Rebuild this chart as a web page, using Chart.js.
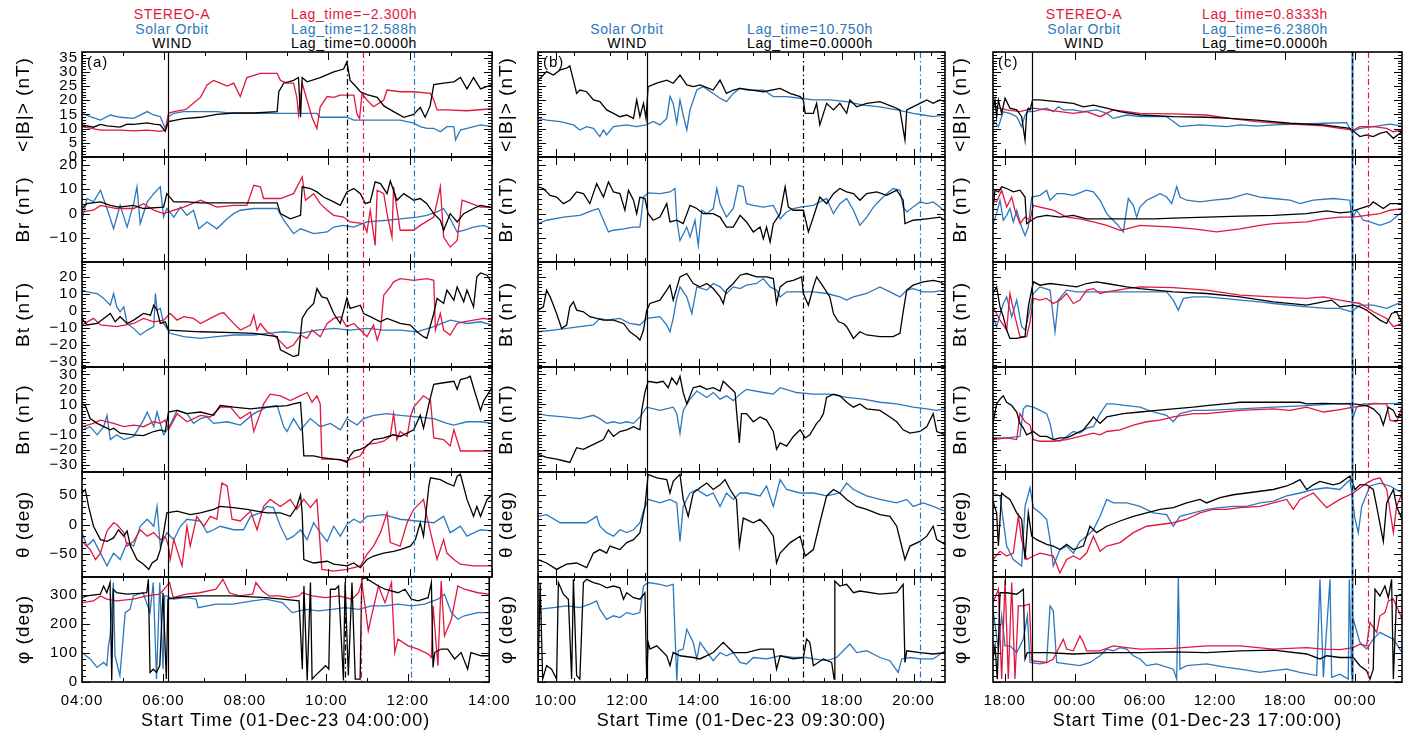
<!DOCTYPE html>
<html>
<head>
<meta charset="utf-8">
<script src="https://cdn.jsdelivr.net/npm/chart.js@4/dist/chart.umd.min.js"></script>
<style>
  body { margin: 0; background: #fff; width: 1413px; height: 736px; overflow: hidden; position: relative; font-family: 'Liberation Sans', Arial, sans-serif; }
  canvas { position: absolute; }
  .hd { position: absolute; transform: translate(-50%, -50%); font-size: 14px; letter-spacing: 0.6px; white-space: nowrap; }
</style>
</head>
<body>
<div class="hd" style="left:172px;top:14px;color:#e2173d">STEREO-A</div>
<div class="hd" style="left:172px;top:29px;color:#2b78be">Solar Orbit</div>
<div class="hd" style="left:172px;top:43px;color:#000">WIND</div>
<div class="hd" style="left:354px;top:14px;color:#e2173d">Lag_time=−2.300h</div>
<div class="hd" style="left:354px;top:29px;color:#2b78be">Lag_time=12.588h</div>
<div class="hd" style="left:354px;top:43px;color:#000">Lag_time=0.0000h</div>

<div class="hd" style="left:627px;top:29px;color:#2b78be">Solar Orbit</div>
<div class="hd" style="left:627px;top:43px;color:#000">WIND</div>
<div class="hd" style="left:810px;top:29px;color:#2b78be">Lag_time=10.750h</div>
<div class="hd" style="left:810px;top:43px;color:#000">Lag_time=0.0000h</div>

<div class="hd" style="left:1084px;top:14px;color:#e2173d">STEREO-A</div>
<div class="hd" style="left:1084px;top:29px;color:#2b78be">Solar Orbit</div>
<div class="hd" style="left:1084px;top:43px;color:#000">WIND</div>
<div class="hd" style="left:1265px;top:14px;color:#e2173d">Lag_time=0.8333h</div>
<div class="hd" style="left:1265px;top:29px;color:#2b78be">Lag_time=6.2380h</div>
<div class="hd" style="left:1265px;top:43px;color:#000">Lag_time=0.0000h</div>
<script>
// colours
const RED = '#e2173d', BLUE = '#2b78be', BLACK = '#000';
const FONT = "'Liberation Sans', Arial, sans-serif";

// panel quantities (same in every column)
const yTitles = ['<|B|> (nT)', 'Br (nT)', 'Bt (nT)', 'Bn (nT)', 'θ (deg)', 'φ (deg)'];
const yMin = [0, -19.8, -33, -35, -90, 0];
const yMax = [37, 23.2, 29, 35, 90, 360];
const yTicks = [[0, 5, 10, 15, 20, 25, 30, 35], [-10, 0, 10, 20], [-30, -20, -10, 0, 10, 20],
                [-30, -20, -10, 0, 10, 20, 30], [-50, 0, 50], [0, 100, 200, 300]];
const yMinor = [1, 2, 2, 2, 10, 20];

// ---------- column (a): hours after 01-Dec-23 04:00 ----------
const aTicks = [0, 2, 4, 6, 8, 10];
const aLabels = ['04:00', '06:00', '08:00', '10:00', '12:00', '14:00'];
const aEvents = [2.10, 6.46, 6.85, 8.09];

const aB_wind = [[0,11.3],[0.28,10.5],[0.45,11.5],[0.61,11],[0.93,10.5],[1.10,11.6],[1.26,11.5],[1.59,12],[1.75,11.6],[1.91,11.3],[2.03,9],[2.11,12.5],[2.48,13.5],[2.89,14],[3.29,15],[3.70,15.5],[4.19,15.5],[4.76,16],[4.80,23],[4.92,26],[5.16,27],[5.28,28],[5.33,14],[5.37,28],[5.49,26.5],[5.81,28],[6.14,30],[6.38,31],[6.46,33.5],[6.54,27],[6.67,25],[6.79,23],[6.95,22],[7.20,21],[7.36,18],[7.60,16],[7.85,14],[8.09,15],[8.25,17.5],[8.37,14],[8.49,18],[8.58,25.5],[8.82,26],[9.07,26.5],[9.23,28],[9.39,24],[9.55,28],[9.72,24],[10,25.5]];
const aB_sta = [[0,10.7],[0.45,9.5],[0.93,9.5],[1.26,9.2],[1.59,9.5],[1.91,9],[2.03,9.5],[2.11,15.4],[2.24,16],[2.48,16.6],[2.56,17],[2.72,19],[2.89,21],[3.05,25.4],[3.21,27],[3.37,26],[3.54,25],[3.70,26],[3.86,21.3],[4.02,28],[4.35,29.5],[4.76,29.5],[4.84,27],[5.00,26],[5.16,26],[5.24,21],[5.28,15],[5.37,26],[5.49,20],[5.61,14],[5.73,10],[5.81,17.7],[5.98,21.3],[6.14,21],[6.30,21.8],[6.63,21.8],[6.71,15],[6.77,13.6],[6.83,22.4],[6.95,20.1],[7.11,17.7],[7.36,20.1],[7.44,23.6],[7.76,23],[8.09,23],[8.50,22.4],[8.58,20.1],[8.66,16.6],[8.90,16.6],[9.39,16.3],[10,17]];
const aB_solo = [[0,15.4],[0.20,14.2],[0.45,13],[0.69,14.8],[0.93,14],[1.26,13.6],[1.59,16],[1.75,14.8],[1.91,14.2],[2.03,10],[2.11,14.2],[2.24,15.4],[2.48,16],[3.29,16],[3.70,15.4],[4.76,15.4],[5.73,15.4],[5.81,14],[6.46,14],[6.63,13],[7.76,13],[8.09,11.9],[8.25,10.7],[8.41,10.1],[8.58,10.1],[8.74,8.9],[8.90,10.7],[9.07,10.7],[9.11,6],[9.23,9.5],[9.39,10.1],[9.72,11.3],[10,10.7]];

const aBr_wind = [[0,2.1],[0.12,4.1],[0.45,4.8],[0.69,3.4],[0.89,2.7],[1.26,3.4],[1.5,2.1],[1.99,2.7],[2.07,8.2],[2.24,4.8],[2.56,4.8],[2.89,4.4],[4.76,4.4],[4.84,0],[5.08,-2.1],[5.33,-0.7],[5.37,11],[5.57,10.3],[5.73,8.9],[5.89,6.8],[6.14,4.8],[6.30,3.4],[6.46,8.9],[6.63,10.3],[6.79,8.2],[6.91,4.1],[7.03,4.8],[7.15,13],[7.28,12.3],[7.44,8.2],[7.52,13.4],[7.68,5.5],[7.85,8.2],[8.09,5.5],[8.25,6.2],[8.41,4.1],[8.58,0],[8.74,-2.7],[8.82,-6.8],[8.98,0],[9.15,-3.4],[9.31,0],[9.55,2.1],[9.72,3.4],[10,2.5]];
const aBr_sta = [[0,0.7],[0.28,1.4],[0.45,3.4],[0.85,2.1],[1.26,2.1],[1.50,4.1],[1.75,1.4],[1.99,0],[2.11,0.7],[2.48,2.7],[2.89,5.5],[3.29,2.7],[3.70,3.4],[4.02,3.4],[4.19,11.6],[4.35,11],[4.43,6.2],[4.84,6.2],[5.16,8.2],[5.37,15.1],[5.45,5.5],[5.65,8.2],[5.81,4.1],[5.98,1.4],[6.14,-0.7],[6.38,-1.4],[6.54,-3.4],[6.87,-4.1],[6.95,-7.5],[7.03,1.4],[7.15,-13],[7.20,9.6],[7.36,8.2],[7.44,0],[7.56,-9.6],[7.60,11],[7.76,-6.8],[8.09,-6.8],[8.25,-4.8],[8.58,-1.4],[8.74,11],[8.82,-9.6],[8.98,-13.7],[9.15,-11],[9.27,5.5],[9.39,4.8],[9.72,2.7],[10,2.7]];
const aBr_solo = [[0,-2.7],[0.12,6.2],[0.28,4.8],[0.45,9.6],[0.61,2.1],[0.77,-6.2],[0.93,3.4],[1.10,-5.5],[1.26,4.1],[1.34,11],[1.42,-4.1],[1.59,4.8],[1.75,8.2],[1.91,11],[1.99,-1.4],[2.07,2.1],[2.24,-1.4],[2.40,2.7],[2.56,-0.7],[2.72,1.4],[2.85,-6.2],[3.05,-3.4],[3.29,-6.2],[3.54,-2.1],[3.70,0],[3.86,1.4],[4.19,2.1],[4.76,2.1],[4.92,-2.7],[5.16,-8.2],[5.33,-6.2],[5.65,-8.2],[5.98,-7.5],[6.14,-5.5],[6.38,-4.8],[6.63,-5.5],[6.95,-3.4],[7.44,-2.7],[7.76,-2.1],[8.17,-1.4],[8.41,-0.7],[8.66,0.7],[8.82,2.1],[8.98,-2.1],[9.15,-7.5],[9.31,-6.8],[9.55,-5.5],[9.80,-4.8],[10,-6.2]];

const aBt_wind = [[0,-4.3],[0.12,-8.2],[0.37,-7.3],[0.53,-4.3],[0.69,-1.4],[0.81,-6.3],[0.93,-3.3],[1.10,-7.3],[1.26,-5.3],[1.50,-1.4],[1.67,-2.4],[1.75,3.5],[1.83,0.6],[1.91,-7.3],[2.03,-6.3],[2.11,-11.2],[2.89,-12.2],[3.70,-12.7],[4.19,-13.1],[4.76,-15.1],[4.84,-22.9],[5.16,-26.9],[5.28,-25.9],[5.37,-4.3],[5.49,0.6],[5.65,4.5],[5.73,13.3],[5.85,8.4],[5.98,7.5],[6.14,-1.4],[6.30,-7.3],[6.46,7.5],[6.54,1.6],[6.79,3.5],[6.87,-1.4],[7.03,-3.3],[7.28,-6.3],[7.44,-4.3],[7.76,-7.3],[8.01,-8.2],[8.17,-12.2],[8.33,-15.1],[8.41,-16.1],[8.58,-1.4],[8.66,7.5],[8.82,4.5],[8.90,12.4],[9.07,6.5],[9.15,14.3],[9.31,5.5],[9.39,12.4],[9.55,2.5],[9.63,20.2],[9.72,22.5],[9.88,21.2],[10,16.3]];
const aBt_sta = [[0,-8.2],[0.28,-4.3],[0.45,-8.2],[0.85,-9.2],[1.26,-7.3],[1.50,-4.3],[1.75,-6.3],[1.99,-5.3],[2.15,-1.4],[2.32,-5.3],[2.48,-3.3],[2.72,-4.3],[2.89,-7.3],[3.13,-4.3],[3.37,-1.4],[3.46,-1.0],[3.62,-5.3],[3.86,-11.2],[4.11,-8.2],[4.19,-2.4],[4.27,-11.2],[4.35,-7.3],[4.51,-12.2],[4.67,-14.1],[4.84,-18],[5.00,-22],[5.16,-20],[5.33,-14.1],[5.49,-16.1],[5.61,-11.2],[5.81,-15.1],[5.98,-7.3],[6.14,-4.3],[6.30,-3.3],[6.46,-9.2],[6.63,-7.3],[6.79,-11.2],[6.95,-15.1],[7.11,-8.2],[7.20,-17.1],[7.28,-11.2],[7.36,9.4],[7.52,14.3],[7.60,17.3],[7.76,19.2],[8.09,18.2],[8.41,19.2],[8.58,18.2],[8.62,-11.2],[8.74,-1.4],[8.82,-11.2],[8.98,-14.1],[9.15,-7.3],[9.31,-6.3],[9.55,-5.3],[9.80,-4.3],[10,-5.3]];
const aBt_solo = [[0,12.4],[0.12,11.4],[0.37,10.4],[0.53,7.5],[0.69,3.5],[0.77,10.4],[0.85,2.5],[0.93,-0.4],[1.02,2.5],[1.10,-7.3],[1.26,-10.2],[1.42,-14.1],[1.59,-11.2],[1.75,-9.2],[1.79,10.4],[1.83,0.6],[1.91,1.6],[1.99,-7.3],[2.15,-13.1],[2.48,-15.1],[2.89,-16.1],[3.29,-15.1],[3.70,-14.1],[4.19,-14.1],[4.51,-13.1],[4.92,-12.2],[5.33,-13.1],[5.73,-11.2],[6.14,-10.2],[6.54,-11.2],[6.95,-10.2],[7.36,-11.2],[7.76,-11.2],[8.17,-12.2],[8.58,-9.2],[8.98,-5.3],[9.39,-7.3],[9.72,-6.3],[10,-8.2]];

const aBn_wind = [[0,10.4],[0.08,9.3],[0.20,0.6],[0.37,-2.6],[0.53,-4.8],[0.69,-6.9],[0.77,-5.8],[0.93,-9.1],[1.26,-10.2],[1.50,-10.8],[1.75,-8.0],[1.91,-6.9],[2.03,-8.0],[2.11,5.0],[2.32,6.1],[2.56,3.9],[2.89,5.0],[3.21,2.8],[3.37,9.3],[3.70,8.2],[4.11,7.1],[4.51,8.2],[5.00,9.3],[5.16,10.4],[5.33,11.5],[5.37,-4.8],[5.41,-24.2],[5.65,-24.2],[5.81,-25.3],[6.14,-26.4],[6.30,-26.8],[6.46,-28.6],[6.54,-24.2],[6.63,-21.0],[6.79,-19.9],[6.95,-17.7],[7.11,-13.4],[7.36,-12.3],[7.60,-10.2],[7.76,-11.3],[7.93,-9.1],[8.09,-6.9],[8.25,2.8],[8.33,-5.8],[8.46,10.4],[8.58,23.4],[8.82,24.5],[9.07,25.5],[9.15,20.1],[9.23,26.6],[9.39,27.7],[9.47,28.8],[9.55,21.2],[9.72,6.1],[9.80,12.6],[10,21.2]];
const aBn_sta = [[0,-4.8],[0.28,-2.6],[0.45,-0.4],[0.77,-2.6],[1.02,-4.8],[1.26,-3.7],[1.50,-4.8],[1.75,-1.5],[1.91,-2.6],[2.03,-0.4],[2.11,-6.9],[2.32,3.9],[2.56,-1.5],[2.89,2.8],[3.13,1.7],[3.37,8.2],[3.62,8.2],[3.86,0.6],[4.11,5.0],[4.19,-8.0],[4.43,10.4],[4.59,16.9],[4.84,15.8],[5.08,12.6],[5.24,14.7],[5.49,18.0],[5.61,11.5],[5.73,15.8],[5.81,10.4],[5.85,-26.4],[6.14,-26.4],[6.46,-27.5],[6.79,-24.2],[6.95,-16.7],[7.20,-15.6],[7.36,-14.5],[7.52,-11.3],[7.60,3.9],[7.68,-13.4],[7.76,-8.0],[7.93,-11.3],[8.01,1.7],[8.09,8.2],[8.33,15.8],[8.50,12.6],[8.58,-12.3],[8.82,-13.4],[8.98,-17.7],[9.07,-6.9],[9.23,-21.0],[9.55,-21.0],[10,-21.0]];
const aBn_solo = [[0,-6.9],[0.20,-4.8],[0.37,-10.2],[0.53,-4.8],[0.61,2.8],[0.69,-13.4],[0.85,-10.2],[1.02,-13.4],[1.26,-11.3],[1.50,-0.4],[1.59,5.0],[1.75,-4.8],[1.83,5.0],[1.99,-10.2],[2.15,-3.7],[2.32,6.1],[2.56,3.9],[2.72,-2.6],[2.89,0.6],[3.05,1.7],[3.21,-2.6],[3.54,-1.5],[3.86,-3.7],[4.19,3.9],[4.51,8.2],[4.76,9.3],[4.92,-4.8],[5.00,-8.0],[5.16,0.6],[5.33,-6.9],[5.57,0.6],[5.81,-4.8],[6.06,-2.6],[6.30,-6.9],[6.46,0.6],[6.71,-3.7],[6.87,0.6],[7.11,2.8],[7.44,3.9],[7.76,2.8],[8.17,1.7],[8.58,0.6],[8.90,-2.6],[9.07,-3.7],[9.39,-1.5],[9.72,-1.5],[10,-2.6]];

const aTh_wind = [[0,54],[0.08,60],[0.16,31],[0.28,-3],[0.45,-26],[0.61,-29],[0.77,-23],[0.89,-9],[1.02,-20],[1.10,-11],[1.18,-37],[1.34,-60],[1.50,-68],[1.63,-77],[1.71,-66],[1.83,-60],[1.91,-43],[1.99,-14],[2.07,20],[2.32,23],[2.64,17],[2.89,20],[3.21,26],[3.37,31],[3.70,29],[4.02,26],[4.51,20],[4.84,20],[5.08,14],[5.24,31],[5.33,51],[5.37,20],[5.41,-60],[5.65,-66],[5.98,-63],[6.14,-68],[6.46,-71],[6.63,-66],[6.79,-74],[6.95,-60],[7.11,-54],[7.36,-49],[7.60,-46],[7.76,-43],[8.01,-37],[8.13,-26],[8.25,3],[8.33,-20],[8.46,66],[8.50,80],[8.74,77],[8.90,71],[9.07,66],[9.15,83],[9.23,86],[9.39,43],[9.55,14],[9.63,31],[9.72,14],[9.88,43],[10,51]];
const aTh_sta = [[0,-29],[0.20,-43],[0.33,-60],[0.45,-49],[0.61,-11],[0.77,3],[0.85,0],[1.02,-14],[1.10,-37],[1.26,-29],[1.42,-9],[1.59,-20],[1.75,-14],[1.91,-26],[2.03,-20],[2.11,-37],[2.15,-60],[2.24,-26],[2.44,-71],[2.56,-3],[2.64,-37],[2.80,14],[2.97,-3],[3.13,14],[3.29,9],[3.41,71],[3.54,66],[3.66,9],[3.86,6],[4.11,23],[4.27,-9],[4.43,31],[4.59,43],[4.84,31],[5.08,43],[5.24,26],[5.41,43],[5.57,29],[5.73,43],[5.85,-77],[6.14,-80],[6.46,-77],[6.79,-71],[6.95,-51],[7.11,-37],[7.28,-14],[7.44,20],[7.52,-31],[7.76,-37],[7.93,3],[8.09,26],[8.25,37],[8.33,43],[8.41,14],[8.58,-37],[8.66,-60],[8.82,-26],[8.90,-49],[9.07,-60],[9.23,-68],[9.55,-71],[10,-71]];
const aTh_solo = [[0,-14],[0.12,-37],[0.28,-26],[0.45,-49],[0.61,-71],[0.77,-49],[0.93,-60],[1.10,-31],[1.26,-37],[1.42,-3],[1.59,9],[1.75,-3],[1.83,31],[1.91,-37],[1.99,-26],[2.07,-14],[2.24,-26],[2.40,-3],[2.56,9],[2.89,6],[3.05,-14],[3.21,-9],[3.37,-3],[3.70,-9],[3.94,-9],[4.11,14],[4.35,20],[4.51,31],[4.67,29],[4.84,-3],[5.00,-26],[5.16,-20],[5.33,-9],[5.49,-26],[5.65,3],[5.81,-14],[5.98,-29],[6.14,-3],[6.30,-20],[6.46,0],[6.63,9],[6.79,3],[6.95,14],[7.36,17],[7.76,9],[8.17,6],[8.58,3],[8.82,14],[8.98,-14],[9.23,-3],[9.39,-20],[9.72,-9],[10,-11]];

const aPh_wind = [[0,289],[0.12,295],[0.45,301],[0.53,329],[0.61,306],[0.69,341],[0.73,5],[0.77,318],[0.85,306],[1.10,301],[1.42,304],[1.59,306],[1.63,352],[1.67,33],[1.75,44],[1.83,33],[1.91,56],[1.99,306],[2.07,10],[2.11,284],[2.32,289],[2.89,295],[3.70,295],[4.51,289],[4.92,284],[5.33,278],[5.41,44],[5.45,329],[5.53,5],[5.61,341],[5.65,10],[5.73,22],[5.98,56],[6.06,44],[6.10,318],[6.22,318],[6.30,329],[6.42,5],[6.46,341],[6.54,22],[6.63,341],[6.71,10],[6.83,10],[6.87,352],[6.95,358],[7.28,329],[7.44,318],[7.76,306],[7.93,318],[8.09,284],[8.25,278],[8.50,289],[8.58,341],[8.62,50],[8.66,101],[8.82,113],[8.98,113],[9.15,79],[9.31,101],[9.47,44],[9.55,101],[9.80,90],[10,90]];
const aPh_sta = [[0,272],[0.28,278],[0.45,295],[0.61,284],[0.85,278],[1.26,284],[1.59,295],[1.91,301],[2.15,341],[2.24,289],[2.56,301],[2.89,306],[3.29,318],[3.46,352],[3.62,306],[3.86,295],[4.19,301],[4.27,341],[4.43,312],[4.59,295],[4.84,295],[5.08,289],[5.33,295],[5.41,306],[5.65,295],[5.98,289],[6.30,295],[6.63,284],[6.79,306],[6.87,341],[6.95,261],[7.03,175],[7.11,227],[7.28,329],[7.44,272],[7.60,341],[7.68,101],[7.76,147],[8.01,124],[8.25,113],[8.50,96],[8.58,84],[8.62,261],[8.74,56],[8.82,346],[8.90,158],[9.07,215],[9.23,329],[9.39,318],[9.72,306],[10,301]];
const aPh_solo = [[0,101],[0.20,79],[0.37,50],[0.53,67],[0.61,56],[0.65,124],[0.69,158],[0.77,341],[0.81,90],[0.93,22],[0.98,101],[1.06,238],[1.18,249],[1.26,295],[1.50,306],[1.67,238],[1.75,341],[1.83,10],[1.91,341],[1.99,44],[2.03,295],[2.07,295],[2.24,284],[2.56,289],[2.80,284],[2.85,255],[3.29,267],[3.70,267],[4.19,278],[4.51,284],[4.92,272],[5.16,238],[5.49,249],[5.81,244],[6.14,249],[6.46,255],[6.79,249],[7.11,261],[7.44,261],[7.76,267],[8.09,261],[8.41,267],[8.74,284],[8.90,301],[9.07,238],[9.23,215],[9.39,227],[9.72,238],[10,238]];

// ---------- column (b): hours after 01-Dec-23 09:30 ----------
const bTicks = [0.5, 2.5, 4.5, 6.5, 8.5, 10.5];
const bLabels = ['10:00', '12:00', '14:00', '16:00', '18:00', '20:00'];
const bEvents = [3.04, 7.40, 10.68];

const bB_wind = [[0,27.1],[0.15,28.9],[0.24,30.1],[0.43,28.9],[0.62,30.7],[0.80,31.3],[0.89,32.1],[0.99,27.1],[1.08,22.4],[1.17,23.6],[1.36,23.0],[1.55,20.1],[1.73,19.5],[1.92,16.6],[2.11,15.4],[2.29,14.2],[2.48,14.8],[2.67,13.6],[2.76,20.1],[2.85,14.2],[2.95,18.9],[3.02,13.6],[3.08,24.8],[3.32,26.0],[3.60,27.1],[3.78,26.0],[3.97,28.9],[4.16,25.4],[4.34,24.8],[4.53,25.4],[4.90,23.6],[5.09,27.1],[5.27,22.4],[5.46,23.6],[5.65,24.2],[6.30,23.0],[6.77,24.2],[7.05,22.4],[7.33,21.3],[7.42,20.1],[7.47,15.4],[7.70,15.4],[7.79,18.9],[7.88,11.3],[8.07,18.9],[8.26,16.6],[8.44,18.9],[8.63,15.4],[8.72,20.1],[8.91,17.7],[9.19,18.9],[9.56,19.5],[9.93,17.7],[10.12,16.6],[10.26,6.0],[10.31,16.6],[10.68,18.9],[10.87,20.1],[11.05,18.9],[11.24,20.1],[11.38,19.5]];
const bB_solo = [[0,13.6],[0.24,13.0],[0.62,12.5],[0.99,11.3],[1.17,9.5],[1.36,10.7],[1.55,10.1],[1.73,7.2],[1.83,9.5],[1.92,7.8],[2.11,10.7],[2.48,11.3],[2.76,10.7],[3.02,11.3],[3.22,12.5],[3.41,11.3],[3.60,13.6],[3.69,21.3],[3.78,18.9],[3.88,11.9],[3.97,20.1],[4.06,14.8],[4.16,9.5],[4.25,16.6],[4.44,23.6],[4.62,24.8],[4.90,22.4],[5.09,20.7],[5.27,19.5],[5.46,22.4],[5.65,24.2],[5.83,23.6],[6.30,23.6],[6.58,21.3],[6.95,21.3],[7.33,20.7],[7.70,20.1],[8.16,20.1],[8.63,19.5],[9.10,18.3],[9.56,17.7],[10.03,16.6],[10.49,15.4],[10.77,14.8],[11.05,14.2],[11.38,14.8]];

const bBr_wind = [[0,11.0],[0.15,10.3],[0.34,7.5],[0.52,6.8],[0.71,4.1],[0.89,5.5],[1.08,8.9],[1.27,8.2],[1.45,4.1],[1.64,12.3],[1.83,6.8],[1.97,13.0],[2.11,8.9],[2.29,8.2],[2.43,1.4],[2.53,9.6],[2.67,5.5],[2.76,0],[2.85,6.8],[2.99,6.2],[3.08,0],[3.22,-2.7],[3.41,-1.4],[3.60,4.1],[3.69,-3.4],[3.88,-2.7],[4.06,-4.1],[4.25,3.4],[4.44,2.1],[4.62,0],[4.90,0],[5.09,-1.4],[5.27,-5.5],[5.46,-5.5],[5.65,-0.7],[5.83,-3.4],[6.02,-7.5],[6.21,-5.5],[6.30,-10.3],[6.39,-5.5],[6.49,-11.6],[6.58,-4.1],[6.77,0],[6.91,11.0],[7.00,2.7],[7.14,1.4],[7.42,1.4],[7.56,-7.5],[7.70,-1.4],[7.88,6.8],[8.07,4.1],[8.26,8.2],[8.44,10.3],[8.63,8.9],[8.82,8.2],[9.00,5.5],[9.19,8.2],[9.47,8.9],[9.75,7.5],[10.03,9.6],[10.21,5.5],[10.26,-4.1],[10.49,-2.7],[10.87,-2.1],[11.24,-1.4],[11.38,-2.7]];
const bBr_solo = [[0,-4.1],[0.24,-2.7],[0.71,-1.4],[1.17,-0.7],[1.55,1.4],[1.69,2.1],[1.83,-2.7],[1.97,-7.5],[2.11,-6.8],[2.39,-6.2],[2.67,-5.5],[2.85,-5.5],[2.95,6.8],[3.08,8.5],[3.41,8.2],[3.69,8.9],[3.83,10.3],[3.88,-2.7],[3.97,-11.0],[4.16,-5.5],[4.25,-9.6],[4.39,-2.7],[4.48,-13.0],[4.58,1.4],[4.72,0],[4.90,2.1],[5.00,10.3],[5.09,4.1],[5.27,-1.4],[5.46,2.1],[5.60,11.6],[5.74,11.0],[5.83,4.1],[6.02,3.4],[6.30,2.7],[6.58,3.4],[6.77,-2.1],[6.95,0.7],[7.14,2.1],[7.33,2.7],[7.70,3.4],[8.07,6.2],[8.26,0],[8.44,4.1],[8.63,6.2],[8.82,1.4],[9.00,-4.8],[9.19,-1.4],[9.38,2.7],[9.56,5.5],[9.75,8.2],[9.93,10.3],[10.12,9.6],[10.21,2.7],[10.31,0.7],[10.49,2.7],[10.68,4.8],[10.87,4.1],[11.05,4.8],[11.24,2.7],[11.38,0.7]];

const bBt_wind = [[0,0.6],[0.15,2.5],[0.24,12.4],[0.34,8.4],[0.52,-1.4],[0.66,-10.2],[0.80,-8.2],[0.89,2.5],[0.99,5.5],[1.08,0.6],[1.27,-0.4],[1.45,-3.3],[1.64,-4.3],[1.83,-5.3],[2.11,-5.3],[2.39,-7.3],[2.57,-12.2],[2.76,-15.1],[2.85,-17.1],[2.95,-11.2],[3.04,0.6],[3.13,4.5],[3.41,6.5],[3.60,12.4],[3.69,15.3],[3.78,6.5],[3.97,20.2],[4.16,22.2],[4.34,16.3],[4.53,14.3],[4.72,16.3],[4.90,13.3],[5.09,8.4],[5.18,4.5],[5.27,12.4],[5.46,16.3],[5.65,21.2],[5.83,22.2],[6.11,20.2],[6.39,20.2],[6.58,19.2],[6.67,4.5],[6.77,14.3],[6.95,17.3],[7.14,18.2],[7.37,20.2],[7.42,10.4],[7.56,3.5],[7.70,14.3],[7.79,20.2],[7.98,14.3],[8.16,8.4],[8.26,-1.4],[8.40,-6.3],[8.54,-7.3],[8.63,-9.2],[8.82,-16.1],[9.00,-12.2],[9.19,-14.1],[9.56,-15.1],[9.93,-15.1],[10.12,-13.1],[10.21,-0.4],[10.31,12.4],[10.49,15.3],[10.77,17.3],[11.05,18.2],[11.24,17.3],[11.38,15.3]];
const bBt_solo = [[0,-12.2],[0.43,-11.2],[0.80,-10.2],[1.17,-9.2],[1.55,-8.2],[1.73,-4.3],[1.92,-5.3],[2.29,-4.3],[2.57,-7.3],[2.85,-8.2],[3.04,-4.3],[3.41,-3.3],[3.60,-8.2],[3.69,-12.2],[3.78,-4.3],[3.88,7.5],[3.97,14.3],[4.16,8.4],[4.30,-1.4],[4.44,14.3],[4.72,12.4],[4.90,16.3],[5.09,14.3],[5.27,10.4],[5.46,14.3],[5.65,13.3],[5.83,15.3],[6.11,16.3],[6.30,19.2],[6.49,14.3],[6.67,12.4],[6.77,8.4],[6.95,11.4],[7.33,11.4],[7.70,11.4],[8.07,10.4],[8.44,8.4],[8.63,6.5],[8.82,8.4],[9.19,10.4],[9.56,14.3],[9.84,11.4],[10.12,8.4],[10.31,12.4],[10.49,13.3],[10.77,11.4],[11.05,11.4],[11.38,12.4]];

const bBn_wind = [[0,-23.2],[0.24,-25.3],[0.52,-26.4],[0.71,-27.5],[0.89,-28.6],[1.08,-18.8],[1.27,-19.9],[1.45,-17.7],[1.64,-15.6],[1.83,-13.4],[1.97,-6.9],[2.11,-11.3],[2.29,-8.0],[2.48,-6.9],[2.67,-4.8],[2.85,-6.9],[2.90,6.1],[2.99,18.0],[3.08,25.5],[3.32,24.5],[3.50,25.5],[3.64,21.2],[3.74,27.7],[3.88,23.4],[3.97,28.8],[4.06,18.0],[4.16,10.4],[4.34,21.2],[4.53,22.3],[4.72,20.1],[4.90,21.2],[5.09,19.0],[5.18,25.5],[5.37,21.2],[5.51,18.0],[5.55,6.1],[5.63,-15.6],[5.69,3.9],[5.83,3.9],[6.02,-1.5],[6.21,1.7],[6.39,-0.4],[6.58,-8.0],[6.67,-19.9],[6.77,-15.6],[6.95,-17.7],[7.14,-11.3],[7.33,-6.9],[7.47,-12.3],[7.60,-10.2],[7.79,-2.6],[7.88,-0.4],[7.98,3.9],[8.07,14.7],[8.26,16.9],[8.44,15.8],[8.63,11.5],[8.82,8.2],[9.00,10.4],[9.19,7.1],[9.56,6.1],[9.84,1.7],[10.03,-1.5],[10.21,-6.9],[10.40,-9.1],[10.68,-8.0],[10.87,-4.8],[11.05,3.9],[11.15,-8.0],[11.38,-10.2]];
const bBn_solo = [[0,3.9],[0.24,2.8],[0.71,1.7],[1.17,0.6],[1.55,2.8],[1.73,0.6],[1.92,-2.6],[2.11,-1.5],[2.29,-2.6],[2.48,-1.5],[2.67,-2.6],[2.85,1.7],[3.04,8.2],[3.41,6.1],[3.78,8.2],[3.88,3.9],[3.97,-9.1],[4.06,6.1],[4.25,13.6],[4.44,19.0],[4.72,14.7],[4.90,18.0],[5.09,13.6],[5.27,15.8],[5.46,12.6],[5.65,16.9],[5.83,20.1],[6.30,18.0],[6.58,16.9],[6.77,21.2],[7.23,18.0],[7.70,16.9],[8.16,16.9],[8.63,14.7],[9.10,13.6],[9.56,11.5],[10.03,10.4],[10.49,8.2],[10.87,7.1],[11.15,6.1],[11.38,7.1]];

const bTh_wind = [[0,-60],[0.24,-66],[0.52,-77],[0.80,-68],[1.08,-66],[1.36,-74],[1.55,-49],[1.73,-43],[1.92,-49],[2.01,-37],[2.29,-43],[2.48,-31],[2.67,-26],[2.85,-14],[2.99,31],[3.08,86],[3.32,80],[3.60,77],[3.69,54],[3.78,74],[3.97,86],[4.06,43],[4.20,14],[4.34,54],[4.53,63],[4.72,71],[4.90,60],[5.09,68],[5.23,77],[5.37,60],[5.55,43],[5.63,-37],[5.74,11],[6.02,3],[6.21,9],[6.39,-3],[6.58,-20],[6.67,-66],[6.77,-49],[7.05,-31],[7.33,-20],[7.47,-54],[7.70,-43],[7.88,3],[8.07,49],[8.26,60],[8.44,54],[8.63,43],[8.91,31],[9.19,26],[9.56,17],[9.84,14],[10.03,-3],[10.26,-60],[10.40,-37],[10.68,-29],[10.87,-20],[11.05,-3],[11.15,-26],[11.38,-34]];
const bTh_solo = [[0,14],[0.24,17],[0.62,3],[0.99,3],[1.36,3],[1.64,14],[1.73,-3],[1.92,-14],[2.11,-20],[2.29,-9],[2.48,-14],[2.67,-9],[2.85,3],[2.95,23],[3.08,43],[3.41,37],[3.69,43],[3.88,37],[3.97,-29],[4.06,31],[4.25,54],[4.44,60],[4.72,49],[4.90,54],[5.09,31],[5.27,54],[5.46,43],[5.65,54],[5.83,54],[6.21,49],[6.39,66],[6.58,31],[6.77,77],[6.95,60],[7.33,54],[7.70,54],[8.07,49],[8.44,54],[8.63,71],[8.82,60],[9.19,49],[9.56,43],[10.03,37],[10.31,43],[10.49,31],[10.77,37],[11.05,31],[11.38,23]];

const bPh_wind = [[0,10],[0.06,341],[0.13,10],[0.24,56],[0.38,44],[0.52,10],[0.57,341],[0.71,301],[0.85,284],[0.94,10],[0.99,352],[1.08,22],[1.17,10],[1.27,341],[1.36,352],[1.55,341],[1.73,335],[1.92,323],[2.11,329],[2.29,323],[2.39,284],[2.48,306],[2.67,289],[2.85,284],[2.99,306],[3.04,10],[3.08,136],[3.13,113],[3.32,124],[3.60,90],[3.69,56],[3.78,101],[3.97,90],[4.34,84],[4.53,79],[4.90,101],[5.18,136],[5.46,101],[5.83,101],[6.21,113],[6.58,113],[6.67,44],[6.77,90],[7.14,79],[7.42,84],[7.51,147],[7.60,136],[7.70,56],[7.98,79],[8.21,67],[8.28,10],[8.30,346],[8.44,329],[8.63,335],[8.82,306],[9.00,312],[9.56,301],[10.03,306],[10.21,335],[10.26,67],[10.31,107],[10.68,101],[11.05,96],[11.38,101]];
const bPh_solo = [[0,249],[0.43,255],[0.80,261],[1.17,255],[1.45,267],[1.64,278],[1.73,249],[1.92,215],[2.11,227],[2.29,221],[2.48,238],[2.67,232],[2.85,238],[2.95,329],[3.08,341],[3.41,335],[3.60,329],[3.78,335],[3.88,5],[3.92,107],[4.06,113],[4.16,181],[4.34,136],[4.44,79],[4.53,136],[4.90,73],[5.09,101],[5.27,90],[5.46,101],[5.65,67],[5.83,62],[6.02,84],[6.39,79],[6.77,90],[7.14,84],[7.51,84],[7.70,79],[8.07,73],[8.35,84],[8.72,130],[8.91,101],[9.19,107],[9.56,84],[9.84,73],[10.07,33],[10.17,79],[10.40,84],[10.68,79],[11.05,79],[11.38,107]];

// ---------- column (c): hours after 01-Dec-23 17:00 ----------
const cTicks = [1, 7, 13, 19, 25, 31];
const cLabels = ['18:00', '00:00', '06:00', '12:00', '18:00', '00:00'];
const cEvents = [3.37, 30.69, 32.12];

const cB_wind = [[0,16.6],[0.17,20.1],[0.31,14.2],[0.46,20.1],[0.74,15.4],[1.03,20.7],[1.45,17.2],[2.03,16.6],[2.45,14.2],[2.74,6.0],[2.88,15.4],[3.02,17.2],[3.17,16.6],[3.39,20.1],[4.02,20.1],[5.45,19.5],[6.87,18.9],[7.73,17.7],[8.59,18.3],[9.73,17.2],[10.87,16.0],[12.58,14.8],[15.43,14.2],[18.28,14.0],[20.28,13.6],[22.56,13.0],[25.41,11.9],[28.27,11.3],[30.55,10.1],[31.40,7.2],[31.97,7.8],[32.54,7.2],[33.11,8.3],[33.69,8.9],[34.26,6.6],[35,8.9]];
const cB_sta = [[0,17.7],[1.17,16.6],[2.31,16.0],[3.45,17.2],[4.59,16.6],[5.73,16.0],[6.87,15.4],[8.01,16.0],[9.16,14.2],[10.30,16.6],[11.44,16.0],[12.58,15.4],[15.43,15.2],[18.28,14.8],[20.28,13.6],[22.56,12.5],[25.41,11.6],[26.84,11.3],[28.27,11.0],[29.69,10.1],[30.83,9.5],[31.40,10.7],[32.54,10.7],[33.69,10.1],[34.26,8.9],[35,9.5]];
const cB_solo = [[0,13.0],[0.46,10.7],[0.88,15.9],[1.45,15.4],[2.03,14.2],[2.45,10.7],[2.74,14.8],[3.02,16.0],[3.45,16.0],[4.59,17.2],[5.16,16.0],[5.59,17.7],[6.02,16.6],[6.87,16.6],[7.73,16.0],[8.87,16.6],[9.73,15.4],[10.30,13.6],[11.44,14.8],[12.58,14.2],[14.86,14.2],[15.43,12.5],[16.00,10.7],[17.71,11.3],[19.99,10.7],[21.14,11.3],[22.56,10.9],[23.99,11.3],[26.27,11.6],[28.27,11.9],[30.26,12.1],[30.69,8.9],[31.40,10.1],[32.54,10.7],[33.97,11.6],[35,10.9]];

const cBr_wind = [[0,2.1],[0.17,9.6],[0.46,8.9],[0.74,11.0],[1.17,10.3],[1.74,8.9],[2.31,9.6],[2.74,6.8],[2.88,-4.1],[3.31,-2.7],[3.74,-1.4],[4.59,-0.7],[5.73,-1.4],[6.87,-0.7],[8.01,-2.1],[9.73,-2.1],[11.44,-2.1],[13.72,-2.1],[15.43,-1.8],[18.28,-1.4],[21.14,-1.0],[23.99,-0.7],[26.84,0],[28.55,1.1],[29.69,0.3],[30.55,0.7],[31.40,2.1],[32.26,3.4],[32.54,4.8],[33.40,2.1],[33.97,4.1],[35,4.1]];
const cBr_sta = [[0,5.5],[0.31,4.8],[0.74,9.6],[1.17,2.7],[1.60,6.8],[1.88,1.4],[2.31,-4.1],[2.74,-1.4],[3.17,-2.7],[3.45,3.4],[4.02,2.7],[5.16,1.4],[6.30,-1.4],[7.44,-2.1],[8.59,-3.4],[9.73,-4.8],[10.87,-6.8],[11.44,-6.2],[12.58,-4.8],[15.43,-5.5],[17.14,-6.2],[19.14,-7.5],[21.14,-6.2],[22.85,-4.8],[23.99,-4.1],[26.84,-3.4],[28.27,-2.1],[29.69,-1.4],[30.83,-1.4],[31.97,-0.7],[33.11,0],[33.97,1.4],[35,2.1]];
const cBr_solo = [[0,-4.1],[0.31,0],[0.60,5.5],[0.88,-2.7],[1.17,-0.7],[1.45,2.1],[1.74,-3.4],[2.03,1.4],[2.45,-5.5],[2.74,-8.9],[3.02,-5.5],[3.31,6.8],[4.02,7.5],[4.59,9.6],[4.88,5.5],[5.45,8.2],[6.02,8.2],[6.87,7.5],[8.01,9.6],[8.59,8.9],[9.16,5.5],[9.73,0],[10.15,-2.1],[10.58,-4.1],[11.15,-7.5],[11.58,6.2],[12.01,3.4],[12.29,-1.4],[12.58,2.7],[13.15,5.5],[13.72,6.8],[14.29,8.2],[14.86,6.8],[15.29,4.1],[15.72,11.0],[16.00,6.8],[16.57,5.5],[17.71,4.8],[18.85,5.5],[20.28,6.2],[21.71,8.2],[22.85,6.8],[23.99,6.2],[25.41,5.5],[26.27,4.1],[27.41,5.5],[29.12,6.2],[30.55,5.5],[30.69,-2.7],[31.12,1.4],[31.69,-2.7],[32.26,-3.4],[33.11,-4.8],[33.97,-3.4],[35,0.7]];

const cBt_wind = [[0,10.4],[0.31,14.3],[0.60,2.5],[0.88,-3.3],[1.17,-11.2],[1.45,-16.1],[2.03,-16.1],[2.74,-15.1],[3.02,2.5],[3.45,17.3],[4.02,15.3],[4.88,16.3],[6.02,15.3],[7.16,14.3],[8.01,16.3],[8.87,17.3],[9.73,16.3],[11.44,14.3],[12.58,13.3],[15.43,11.4],[18.28,10.4],[21.14,8.4],[23.99,5.5],[26.84,3.5],[28.98,6.5],[29.69,2.5],[30.83,3.5],[31.40,2.5],[31.97,0.6],[33.11,-5.3],[33.69,-7.3],[34.11,-1.4],[34.54,-0.4],[35,-7.3]];
const cBt_sta = [[0,2.5],[0.60,-5.3],[1.17,-11.2],[1.45,10.4],[1.88,-3.3],[2.31,-15.1],[2.88,-15.1],[3.17,-6.3],[3.45,7.5],[4.02,6.5],[4.59,7.5],[5.16,4.5],[5.73,6.5],[6.30,10.4],[6.87,4.5],[7.44,6.5],[8.01,12.4],[8.59,13.3],[9.16,10.4],[9.73,11.4],[11.44,13.3],[12.58,14.3],[15.43,13.9],[18.28,12.4],[21.14,9.4],[23.99,8.4],[26.84,7.5],[28.27,8.4],[29.69,6.5],[31.40,4.5],[32.54,-0.4],[33.69,-4.3],[34.26,-9.2],[35,-7.3]];
const cBt_solo = [[0,-3.3],[0.31,-9.2],[0.88,4.5],[1.17,8.4],[1.60,-3.3],[2.03,6.5],[2.45,-9.2],[2.74,-11.2],[3.02,-3.3],[3.45,10.4],[4.02,14.3],[4.88,12.4],[5.31,-12.2],[5.59,6.5],[6.30,12.4],[7.16,11.4],[8.30,11.4],[9.73,11.4],[11.44,11.4],[13.15,11.4],[14.86,11.4],[15.43,6.5],[15.86,0.6],[16.29,7.5],[17.14,8.4],[18.28,8.4],[19.71,7.5],[21.14,6.5],[22.85,5.5],[23.99,4.5],[26.84,2.5],[28.55,1.6],[29.69,1.6],[30.69,-0.4],[31.40,3.5],[32.54,3.5],[33.69,1.6],[35,5.5]];

const cBn_wind = [[0,-2.6],[0.31,10.4],[0.60,13.6],[0.88,15.8],[1.17,11.5],[1.60,9.3],[2.03,5.0],[2.31,-2.6],[2.60,-5.8],[2.88,-10.2],[3.45,-8.0],[4.02,-11.3],[4.59,-11.3],[5.16,-13.4],[5.73,-12.3],[6.30,-12.3],[6.87,-10.2],[7.73,-6.9],[8.30,-1.5],[8.59,1.7],[9.16,-2.6],[9.73,1.7],[11.15,3.9],[12.58,5.0],[14.00,6.1],[15.43,7.1],[17.14,8.2],[18.28,9.3],[20.28,10.8],[21.14,11.5],[23.99,11.5],[26.27,11.5],[26.84,10.4],[28.27,10.8],[29.69,10.4],[30.83,10.4],[31.97,9.3],[32.54,7.1],[33.11,2.8],[33.40,-3.7],[33.83,8.2],[34.26,6.1],[34.54,1.7],[35,2.8]];
const cBn_sta = [[0,-13.4],[1.17,-12.3],[2.03,-13.4],[2.31,3.9],[2.74,-1.5],[3.17,-3.7],[3.45,-13.4],[4.02,-14.5],[5.16,-14.5],[6.30,-13.4],[7.44,-11.3],[8.59,-9.1],[9.16,-10.2],[9.73,-8.0],[10.87,-6.9],[12.01,-3.7],[13.15,-1.5],[14.29,-0.4],[15.43,1.7],[17.14,3.9],[18.28,3.9],[21.14,6.1],[23.99,7.1],[25.41,6.1],[26.84,8.2],[28.27,5.0],[29.69,6.6],[30.83,8.2],[31.97,9.3],[32.54,10.8],[33.69,10.4],[33.97,-0.4],[34.54,-1.5],[35,8.2]];
const cBn_solo = [[0,-12.3],[1.17,-12.3],[2.31,-11.3],[2.60,7.1],[2.88,9.3],[3.45,8.2],[4.02,6.1],[4.59,3.9],[4.88,-2.6],[5.16,-13.4],[5.73,-14.5],[6.30,-11.3],[6.87,-8.0],[7.44,-9.1],[8.01,-5.8],[8.59,-4.8],[9.16,3.9],[9.73,10.4],[10.30,10.4],[11.44,9.3],[12.58,8.2],[13.72,5.0],[14.86,2.8],[15.43,-1.5],[16.00,3.9],[17.14,6.1],[18.28,6.1],[21.14,7.1],[23.99,8.2],[26.84,9.3],[29.12,10.4],[30.55,10.8],[30.83,1.7],[31.12,8.2],[31.69,10.4],[32.54,10.4],[35,10.8]];

const cTh_wind = [[0,40],[0.31,20],[0.46,-37],[0.74,54],[1.03,49],[1.45,43],[2.03,20],[2.45,9],[2.74,-60],[3.02,20],[3.31,-20],[3.74,-26],[4.59,-34],[5.16,-37],[5.73,-43],[6.30,-34],[6.87,-43],[7.73,-37],[8.30,-3],[8.87,-14],[9.73,-3],[10.87,6],[12.01,14],[13.15,20],[14.29,26],[15.43,29],[16.57,37],[17.71,43],[18.28,37],[19.42,46],[20.56,51],[21.71,54],[22.85,57],[23.99,60],[25.13,66],[25.70,71],[26.27,77],[26.84,60],[27.41,68],[27.98,74],[29.12,68],[29.69,71],[30.55,83],[30.98,60],[31.40,68],[31.97,68],[32.54,60],[32.83,31],[33.40,-29],[33.69,37],[34.26,60],[34.54,31],[35,9]];
const cTh_sta = [[0,-60],[0.60,-46],[1.17,-54],[1.74,-49],[2.17,14],[2.45,-26],[2.88,-60],[3.45,-54],[4.02,-49],[5.16,-54],[5.73,-83],[6.30,-60],[6.87,-54],[7.44,-60],[8.01,-49],[8.59,-20],[9.16,-46],[9.73,-37],[10.87,-31],[12.01,-14],[13.15,-3],[14.29,0],[15.43,3],[16.57,9],[17.71,20],[18.85,26],[19.99,26],[21.14,29],[22.85,31],[23.99,37],[25.13,43],[25.70,26],[26.27,43],[27.41,54],[28.55,29],[29.69,43],[30.83,54],[31.97,71],[32.54,77],[33.11,80],[33.69,60],[34.26,-14],[34.54,31],[35,54]];
const cTh_solo = [[0,54],[0.60,49],[1.17,-37],[1.74,-60],[2.45,-71],[2.74,31],[3.17,63],[3.45,29],[4.02,20],[4.59,9],[4.88,-26],[5.16,-71],[5.73,-43],[6.30,-37],[6.87,-49],[7.44,-29],[8.01,-20],[8.59,-9],[9.16,14],[9.73,43],[10.30,37],[11.44,37],[12.58,31],[13.72,20],[14.86,17],[15.43,-3],[16.00,14],[17.14,20],[18.28,26],[19.42,29],[20.56,31],[21.71,31],[22.85,37],[23.99,40],[25.13,49],[26.27,54],[27.41,60],[28.55,63],[29.69,60],[30.55,77],[30.98,9],[31.26,-14],[31.55,31],[32.26,66],[33.11,71],[33.97,66],[35,54]];

const cPh_wind = [[0,79],[0.17,124],[0.37,10],[0.60,306],[1.17,306],[2.03,301],[2.60,318],[2.74,79],[2.94,101],[3.45,101],[4.59,101],[6.87,96],[9.73,101],[12.58,101],[15.43,103],[18.28,101],[21.14,107],[23.99,109],[26.84,96],[27.98,79],[28.55,90],[29.69,84],[30.83,84],[31.40,56],[31.97,39],[32.26,10],[32.54,44],[32.69,318],[33.11,295],[33.54,329],[33.83,289],[34.11,352],[34.26,10],[34.54,295],[35,301]];
const cPh_sta = [[0,272],[0.46,318],[0.74,10],[1.03,352],[1.31,10],[1.60,341],[1.88,10],[2.17,261],[2.60,261],[3.11,267],[3.31,73],[4.59,67],[5.16,79],[6.02,147],[6.30,113],[6.87,107],[7.44,158],[7.73,136],[8.01,107],[9.16,107],[10.30,124],[11.44,118],[12.58,113],[15.43,115],[18.28,124],[21.14,124],[23.99,113],[26.84,118],[28.27,113],[29.69,111],[30.83,118],[31.40,130],[31.97,124],[32.26,204],[32.83,170],[33.11,227],[33.54,238],[33.83,278],[34.26,284],[34.54,261],[35,215]];
const cPh_solo = [[0,249],[0.46,113],[0.74,227],[1.03,124],[1.45,124],[2.03,101],[2.60,147],[2.94,227],[3.17,67],[4.02,62],[4.59,67],[4.88,261],[5.16,244],[5.45,67],[6.30,62],[7.44,56],[8.30,67],[9.16,90],[9.73,113],[10.30,107],[10.87,118],[11.44,113],[12.01,90],[12.58,79],[13.15,56],[14.00,62],[15.43,44],[15.72,10],[15.86,358],[16.00,44],[16.57,56],[18.28,62],[19.99,50],[21.14,44],[22.85,33],[23.99,39],[25.13,44],[26.27,33],[27.70,22],[27.98,352],[28.27,16],[28.84,352],[28.98,16],[29.69,27],[30.40,10],[30.49,352],[30.69,22],[30.83,215],[31.40,136],[31.97,113],[32.54,147],[33.11,170],[33.69,158],[34.26,147],[35,101]];

// ---------- layout ----------
const panelTops = [52, 157, 262, 367, 472, 577];
const PANEL_H = 105, PAD = 22, PAD_R = 26, X_AXIS_H = 54;

const columns = [
  { left: 82, width: 410, marginL: 82, titlePad: 12, showY: true, xMax: 10, tag: '(a)',
    xTicks: aTicks, xLabels: aLabels, xMinor: 1, xTitle: 'Start Time (01-Dec-23 04:00:00)',
    events: [[aEvents[0], BLACK, []], [aEvents[1], BLACK, [6, 3, 1.5, 3]], [aEvents[2], RED, [6, 3, 1.5, 3]], [aEvents[3], BLUE, [6, 3, 1.5, 3]]],
    series: [[aB_wind, aB_sta, aB_solo], [aBr_wind, aBr_sta, aBr_solo], [aBt_wind, aBt_sta, aBt_solo],
             [aBn_wind, aBn_sta, aBn_solo], [aTh_wind, aTh_sta, aTh_solo], [aPh_wind, aPh_sta, aPh_solo]] },
  { left: 538, width: 407, marginL: 48, titlePad: 5, showY: false, xMax: 11.38, tag: '(b)',
    xTicks: bTicks, xLabels: bLabels, xMinor: 1, xTitle: 'Start Time (01-Dec-23 09:30:00)',
    events: [[bEvents[0], BLACK, []], [bEvents[1], BLACK, [6, 3, 1.5, 3]], [bEvents[2], BLUE, [6, 3, 1.5, 3]]],
    series: [[bB_wind, null, bB_solo], [bBr_wind, null, bBr_solo], [bBt_wind, null, bBt_solo],
             [bBn_wind, null, bBn_solo], [bTh_wind, null, bTh_solo], [bPh_wind, null, bPh_solo]] },
  { left: 993, width: 409, marginL: 48, titlePad: 4, showY: false, xMax: 35, tag: '(c)',
    xTicks: cTicks, xLabels: cLabels, xMinor: 0, xTitle: 'Start Time (01-Dec-23 17:00:00)',
    events: [[cEvents[0], BLACK, []], [cEvents[1], BLUE, [], 2], [cEvents[1] + 0.03, BLACK, [4, 3]], [cEvents[2], RED, [6, 3, 1.5, 3]]],
    series: [[cB_wind, cB_sta, cB_solo], [cBr_wind, cBr_sta, cBr_solo], [cBt_wind, cBt_sta, cBt_solo],
             [cBn_wind, cBn_sta, cBn_solo], [cTh_wind, cTh_sta, cTh_solo], [cPh_wind, cPh_sta, cPh_solo]] }
];

// wider IDL-like lettering for every text the chart draws
const spacingPlugin = {
  id: 'spacing',
  beforeDraw(chart) { chart.ctx.letterSpacing = '1px'; }
};

// IDL-like frame: box, inward ticks on all sides, event lines, panel tag
const framePlugin = {
  id: 'frame',
  afterDatasetsDraw(chart) {
    const o = chart.options.plugins.frame;
    const { ctx, chartArea: a, scales: { x, y } } = chart;
    ctx.save();
    ctx.beginPath();
    ctx.rect(a.left, a.top, a.width, a.height);
    ctx.clip();
    o.events.forEach(([t, color, dash, lw]) => {
      const px = Math.round(x.getPixelForValue(t)) + 0.5;
      ctx.strokeStyle = color;
      ctx.lineWidth = lw || 1.2;
      ctx.setLineDash(dash);
      ctx.beginPath();
      ctx.moveTo(px, a.top);
      ctx.lineTo(px, a.bottom);
      ctx.stroke();
    });
    ctx.restore();

    ctx.save();
    ctx.strokeStyle = '#000';
    ctx.lineWidth = 1;
    ctx.setLineDash([]);
    ctx.beginPath();
    const k0 = Math.ceil(y.min / o.yMinor - 1e-6), k1 = Math.floor(y.max / o.yMinor + 1e-6);
    for (let k = k0; k <= k1; k++) {
      const v = k * o.yMinor;
      const major = o.yTicks.some(t => Math.abs(t - v) < 1e-6);
      const len = major ? 8 : 4;
      const py = Math.round(y.getPixelForValue(v)) + 0.5;
      ctx.moveTo(a.left, py); ctx.lineTo(a.left + len, py);
      ctx.moveTo(a.right, py); ctx.lineTo(a.right - len, py);
    }
    const xs = o.xTicks.map(v => [v, 8]);
    if (o.xMinor) {
      for (let v = 0; v <= x.max + 1e-6; v += o.xMinor) {
        if (!o.xTicks.some(t => Math.abs(t - v) < 1e-6)) xs.push([v, 4]);
      }
    }
    xs.forEach(([v, len]) => {
      const px = Math.round(x.getPixelForValue(v)) + 0.5;
      ctx.moveTo(px, a.bottom); ctx.lineTo(px, a.bottom - len);
      ctx.moveTo(px, a.top); ctx.lineTo(px, a.top + len);
    });
    ctx.stroke();
    ctx.lineWidth = 1.6;
    ctx.strokeRect(a.left, a.top, a.width, a.height);
    if (o.tag) {
      ctx.fillStyle = '#000';
      ctx.font = '15px ' + FONT;
      ctx.textBaseline = 'middle';
      ctx.fillText(o.tag, a.left + 5, a.top + 11);
    }
    ctx.restore();
  }
};

const colors = [BLACK, RED, BLUE];
const minus = s => String(s).replace('-', '\u2212');

columns.forEach(col => {
  yTitles.forEach((title, i) => {
    const last = i === yTitles.length - 1;
    const cv = document.createElement('canvas');
    cv.width = col.marginL + col.width + PAD_R;
    cv.height = PAD + PANEL_H + (last ? X_AXIS_H : PAD);
    cv.style.left = (col.left - col.marginL) + 'px';
    cv.style.top = (panelTops[i] - PAD) + 'px';
    document.body.appendChild(cv);

    const datasets = [];
    col.series[i].forEach((data, j) => {
      if (!data) return;
      datasets.push({ data, borderColor: colors[j], borderWidth: 1.3, pointRadius: 0, tension: 0, fill: false });
    });

    new Chart(cv, {
      type: 'line',
      data: { datasets },
      options: {
        responsive: false, animation: false, events: [],
        layout: { padding: { top: PAD, bottom: last ? 0 : PAD, left: 0, right: PAD_R } },
        plugins: {
          legend: { display: false }, tooltip: { enabled: false },
          frame: { events: col.events, yTicks: yTicks[i], yMinor: yMinor[i], xTicks: col.xTicks,
                   xMinor: col.xMinor, tag: i === 0 ? col.tag : '' }
        },
        scales: {
          x: {
            type: 'linear', min: 0, max: col.xMax, display: last,
            grid: { display: false, drawTicks: false }, border: { display: false },
            afterBuildTicks: s => { s.ticks = col.xTicks.map(v => ({ value: v })); },
            afterFit: last ? (s => { s.height = X_AXIS_H; }) : undefined,
            ticks: { autoSkip: false, maxRotation: 0, padding: 10, color: '#000',
                     font: { family: FONT, size: 15 }, callback: (v, idx) => col.xLabels[idx] },
            title: { display: true, text: col.xTitle, color: '#000', font: { family: FONT, size: 18 },
                     padding: { top: 0, bottom: 4 } }
          },
          y: {
            type: 'linear', min: yMin[i], max: yMax[i],
            grid: { display: false, drawTicks: false }, border: { display: false },
            afterBuildTicks: s => { s.ticks = yTicks[i].map(v => ({ value: v })); },
            afterFit: s => { s.width = col.marginL; },
            ticks: { display: col.showY, autoSkip: false, padding: 4, color: '#000',
                     font: { family: FONT, size: 15 }, callback: v => minus(v) },
            title: { display: true, text: title, color: '#000', font: { family: FONT, size: 19 },
                     padding: { top: col.titlePad, bottom: 0 } }
          }
        }
      },
      plugins: [spacingPlugin, framePlugin]
    });
  });
});
</script>
</body>
</html>
